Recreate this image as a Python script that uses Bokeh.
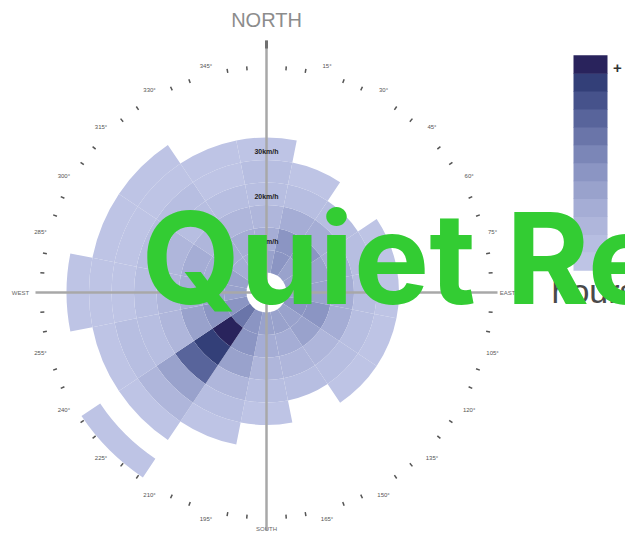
import numpy as np
from bokeh.plotting import figure
from bokeh.models import Range1d, ColumnDataSource, LinearColorMapper
from bokeh.embed import file_html
from bokeh.resources import INLINE
from bokeh.core.properties import value

# ---------------- data ----------------
directions = ["N", "NNE", "NE", "ENE", "E", "ESE", "SE", "SSE",
              "S", "SSW", "SW", "WSW", "W", "WNW", "NW", "NNW"]
bearings = [0, 22.5, 45, 67.5, 90, 112.5, 135, 157.5,
            180, 202.5, 225, 247.5, 270, 292.5, 315, 337.5]
speed_bins = [5, 10, 15, 20, 25, 30, 35, 40, 45]       # km/h (bin centres, width 5)
speed_labels = ["10km/h", "20km/h", "30km/h"]
speed_label_values = [10, 20, 30]

hours_N   = [44, 37, 27, 18, 12, 6]
hours_NNE = [56, 52, 33, 18, 7]
hours_NE  = [48, 55, 35, 17]
hours_ENE = [46, 44, 33, 15, 5]
hours_E   = [47, 43, 31, 16, 8]
hours_ESE = [53, 56, 36, 19, 6]
hours_SE  = [43, 45, 27, 13, 5]
hours_SSE = [44, 38, 25, 12]
hours_S   = [46, 36, 25, 15, 8]
hours_SSW = [54, 57, 45, 28, 14, 6]
hours_SW  = [72, 118, 104, 86, 48, 22, 8, 0, 4]
hours_WSW = [55, 52, 44, 28, 18, 11, 5]
hours_W   = [46, 47, 36, 26, 16, 9, 6, 3]
hours_WNW = [43, 39, 33, 24, 14, 8, 4]
hours_NW  = [37, 34, 27, 17, 11, 6, 3]
hours_NNW = [38, 35, 25, 16, 9, 5]
hours_by_dir = [hours_N, hours_NNE, hours_NE, hours_ENE, hours_E, hours_ESE,
                hours_SE, hours_SSE, hours_S, hours_SSW, hours_SW, hours_WSW,
                hours_W, hours_WNW, hours_NW, hours_NNW]

hours_low, hours_high = 0, 120
palette = ["#bec4e5", "#b7bee1", "#afb6db", "#a5add5", "#99a2cc", "#8b95c3",
           "#7b86b7", "#6a75a9", "#58649b", "#46528b", "#333f78", "#29235c"]

compass_labels = {0: "NORTH", 90: "EAST", 180: "SOUTH", 270: "WEST"}

# ---------------- geometry helpers ----------------
R0 = 20.0          # radius of calm hole (px)
K = 4.5            # px per km/h
def rad(speed):
    return R0 + K * (speed - 2.5)

sector = 22.5

xs, ys, inner, outer, start, end, hrs = [], [], [], [], [], [], []
for b, hl in zip(bearings, hours_by_dir):
    for s, h in zip(speed_bins, hl):
        if h <= 0:
            continue
        xs.append(0); ys.append(0)
        inner.append(rad(s - 2.5)); outer.append(rad(s + 2.5))
        start.append(np.radians(90 - (b + sector / 2)))
        end.append(np.radians(90 - (b - sector / 2)))
        hrs.append(h)

src = ColumnDataSource(dict(x=xs, y=ys, ir=inner, orr=outer, sa=start, ea=end, h=hrs))
mapper = LinearColorMapper(palette=palette, low=hours_low, high=hours_high)

p = figure(width=625, height=536, output_backend="svg", toolbar_location=None,
           x_range=Range1d(-266, 359), y_range=Range1d(-244, 292),
           min_border=0, min_border_left=0, min_border_right=0,
           min_border_top=0, min_border_bottom=0)
p.axis.visible = False
p.grid.visible = False
p.outline_line_color = None
p.background_fill_color = "white"

p.annular_wedge(x="x", y="y", inner_radius="ir", outer_radius="orr",
                start_angle="sa", end_angle="ea", source=src,
                fill_color={"field": "h", "transform": mapper},
                line_color=None)

# axis cross lines
p.segment(x0=[0], y0=[-238], x1=[0], y1=[252], line_color="#a8a8a8", line_width=2.5)
p.segment(x0=[-231], y0=[0], x1=[231], y1=[0], line_color="#a8a8a8", line_width=2.5)
p.segment(x0=[0], y0=[244], x1=[0], y1=[252], line_color="#707070", line_width=3)

# compass ticks and labels
tick_ang = [a for a in range(0, 360, 5) if a % 15 != 0]
tx0 = [223 * np.sin(np.radians(a)) for a in tick_ang]
ty0 = [223 * np.cos(np.radians(a)) for a in tick_ang]
tx1 = [227 * np.sin(np.radians(a)) for a in tick_ang]
ty1 = [227 * np.cos(np.radians(a)) for a in tick_ang]
p.segment(x0=tx0, y0=ty0, x1=tx1, y1=ty1, line_color="#555555", line_width=1.5)

lab_ang = [a for a in range(15, 360, 15) if a % 90 != 0]
lx = [234 * np.sin(np.radians(a)) for a in lab_ang]
ly = [234 * np.cos(np.radians(a)) for a in lab_ang]
p.text(x=lx, y=ly, text=[f"{a}°" for a in lab_ang], text_font=value("Liberation Sans"),
       text_font_size="6px", text_color="#555555", text_align="center",
       text_baseline="middle")

p.text(x=[0], y=[273], text=[compass_labels[0]], text_font=value("Liberation Sans"),
       text_font_size="20px", text_color="#8c8c8c", text_align="center",
       text_baseline="middle")
p.text(x=[241, 0, -246], y=[0, -236, 0],
       text=[compass_labels[90], compass_labels[180], compass_labels[270]],
       text_font=value("Liberation Sans"), text_font_size="6px", text_color="#666666",
       text_align="center", text_baseline="middle")

# radial speed labels
p.text(x=[0] * len(speed_label_values),
       y=[rad(v) - 3 for v in speed_label_values],
       text=speed_labels, text_font=value("Liberation Sans"), text_font_style="bold",
       text_font_size="7px", text_color="#222222", text_align="center",
       text_baseline="middle")

# colour bar (manual)
n = len(palette)
cb_bottom, cb_top = 22, 237
step = (cb_top - cb_bottom) / n
levels = [hours_low + (i + 0.5) * (hours_high - hours_low) / n for i in range(n)]
cb_src = ColumnDataSource(dict(x=[324] * n,
                               y=[cb_bottom + step * (i + 0.5) for i in range(n)],
                               v=levels))
p.rect(x="x", y="y", width=34, height=step + 0.5, source=cb_src,
       fill_color={"field": "v", "transform": mapper}, line_color=None)
p.text(x=[351], y=[225], text=["+"], text_font=value("Liberation Sans"),
       text_font_style="bold", text_font_size="15px", text_color="#333333",
       text_align="center", text_baseline="middle")
p.text(x=[285], y=[2], text=["hours"], text_font=value("Liberation Sans"),
       text_font_size="34px", text_color="#4a4a4a", text_align="left",
       text_baseline="alphabetic")

# overlay text
p.text(x=[-125], y=[35], text=["Quiet Re"], text_font=value("Inter"),
       text_font_style="bold", text_font_size="127px", text_color="#33cc33",
       text_align="left", text_baseline="alphabetic")

open("out.html", "w").write(file_html(p, INLINE))
